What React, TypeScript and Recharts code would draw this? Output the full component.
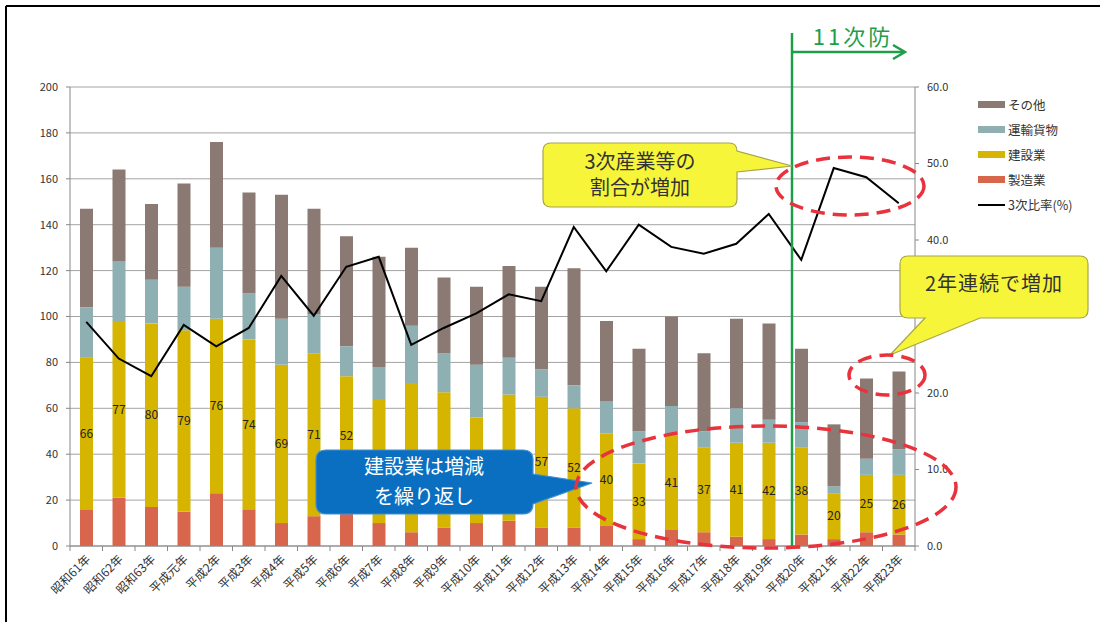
import React from "react"
import {
  ComposedChart,
  Bar,
  Line,
  XAxis,
  YAxis,
  CartesianGrid,
  Legend,
  LabelList,
} from "recharts"

const categories = [
  "昭和61年", "昭和62年", "昭和63年", "平成元年", "平成2年", "平成3年", "平成4年",
  "平成5年", "平成6年", "平成7年", "平成8年", "平成9年", "平成10年", "平成11年",
  "平成12年", "平成13年", "平成14年", "平成15年", "平成16年", "平成17年", "平成18年",
  "平成19年", "平成20年", "平成21年", "平成22年", "平成23年",
]
const manufacturing = [16, 21, 17, 15, 23, 16, 10, 13, 22, 10, 6, 8, 10, 11, 8, 8, 9, 3, 7, 6, 4, 3, 5, 3, 6, 5]
const construction = [66, 77, 80, 79, 76, 74, 69, 71, 52, 54, 65, 59, 46, 55, 57, 52, 40, 33, 41, 37, 41, 42, 38, 20, 25, 26]
const transport = [22, 26, 19, 19, 31, 20, 20, 17, 13, 14, 25, 17, 23, 16, 12, 10, 14, 14, 13, 7, 15, 10, 11, 3, 7, 11]
const others = [43, 40, 33, 45, 46, 44, 54, 46, 48, 48, 34, 33, 34, 40, 36, 51, 35, 36, 39, 34, 39, 42, 32, 27, 35, 34]
const tertiaryRatio = [
  29.3, 24.5, 22.2, 28.9, 26.1, 28.5, 35.3, 30.1, 36.5, 37.8, 26.3, 28.5, 30.4,
  32.9, 32.0, 41.7, 35.9, 42.0, 39.1, 38.2, 39.5, 43.4, 37.4, 49.4, 48.2, 44.8,
]
const leftTicks = [0, 20, 40, 60, 80, 100, 120, 140, 160, 180, 200]
const rightTicks = [0, 10, 20, 30, 40, 50, 60]

const COLORS = {
  others: "#8b7a73",
  transport: "#8fb0b3",
  construction: "#d5b500",
  manufacturing: "#d8664c",
}

const data = categories.map((name, i) => ({
  name,
  manufacturing: manufacturing[i],
  construction: construction[i],
  transport: transport[i],
  others: others[i],
  ratio: tertiaryRatio[i],
}))

const legendItems = [
  { label: "その他", color: COLORS.others, line: false },
  { label: "運輸貨物", color: COLORS.transport, line: false },
  { label: "建設業", color: COLORS.construction, line: false },
  { label: "製造業", color: COLORS.manufacturing, line: false },
  { label: "3次比率(%)", color: "#000", line: true },
]

const FONT = '"Noto Sans CJK JP", "Noto Sans", sans-serif'

function XTick({ x, y, payload, index }: any) {
  const off = payload?.offset || 16.25
  const y0 = y - 7
  return (
    <g>
      <line x1={x - off} x2={x - off} y1={y0} y2={y0 + 5} stroke="#888" />
      {index === categories.length - 1 && (
        <line x1={x + off} x2={x + off} y1={y0} y2={y0 + 5} stroke="#888" />
      )}
      <text
        x={x + 5}
        y={y + 7}
        transform={`rotate(-45, ${x + 5}, ${y + 7})`}
        textAnchor="end"
        fontSize={12}
        fill="#333"
        fontFamily={FONT}
      >
        {payload.value}
      </text>
    </g>
  )
}

function LegendBox() {
  return (
    <div style={{ fontFamily: FONT, fontSize: 12.5, color: "#333" }}>
      {legendItems.map((it) => (
        <div key={it.label} style={{ display: "flex", alignItems: "center", height: 25 }}>
          {it.line ? (
            <div style={{ width: 27, height: 2, background: it.color }} />
          ) : (
            <div style={{ width: 27, height: 7, background: it.color }} />
          )}
          <span style={{ marginLeft: 3 }}>{it.label}</span>
        </div>
      ))}
    </div>
  )
}

function Annotations() {
  const red = "#e8323c"
  const green = "#1e9e4a"
  return (
    <svg
      width={1100}
      height={622}
      style={{ position: "absolute", left: 0, top: 0, pointerEvents: "none", fontFamily: FONT }}
    >
      <line x1={6} y1={6} x2={1100} y2={6} stroke="#000" strokeWidth={2} />
      <line x1={6} y1={6} x2={6} y2={622} stroke="#000" strokeWidth={2} />

      {/* 11次防 */}
      <line x1={792} y1={33} x2={792} y2={546} stroke={green} strokeWidth={2.5} />
      <line x1={792} y1={52} x2={904} y2={52} stroke={green} strokeWidth={2.5} />
      <polyline points="893,45 905,52 893,59" fill="none" stroke={green} strokeWidth={2.5} />
      <text x={853} y={45} textAnchor="middle" fontSize={22} fill={green} letterSpacing={3}>
        11次防
      </text>

      {/* callout: 3次産業等の割合が増加 */}
      <path
        d="M 551 143 H 729 Q 737 143 737 151 L 792 166 L 737 172 V 199 Q 737 207 729 207 H 551 Q 543 207 543 199 V 151 Q 543 143 551 143 Z"
        fill="#f7f53a"
        stroke="#a7a54a"
        strokeWidth={1.2}
      />
      <text x={640} y={169} textAnchor="middle" fontSize={20} fill="#333">3次産業等の</text>
      <text x={640} y={195} textAnchor="middle" fontSize={20} fill="#333">割合が増加</text>

      {/* callout: 2年連続で増加 */}
      <path
        d="M 908 256 H 1080 Q 1088 256 1088 264 V 310 Q 1088 318 1080 318 H 980 L 890 355 L 925 318 H 908 Q 900 318 900 310 V 264 Q 900 256 908 256 Z"
        fill="#f7f53a"
        stroke="#a7a54a"
        strokeWidth={1.2}
      />
      <text x={994} y={291} textAnchor="middle" fontSize={20} fill="#333" letterSpacing={1}>
        2年連続で増加
      </text>

      {/* callout: 建設業は増減を繰り返し */}
      <path
        d="M 326 450 H 523 Q 533 450 533 460 V 474 L 592 483 L 533 504 Q 533 514 523 514 H 326 Q 316 514 316 504 V 460 Q 316 450 326 450 Z"
        fill="#0a6fc0"
        stroke="#3f8fd0"
        strokeWidth={1.2}
      />
      <text x={424} y={474} textAnchor="middle" fontSize={20} fill="#fff">建設業は増減</text>
      <text x={424} y={504} textAnchor="middle" fontSize={20} fill="#fff">を繰り返し</text>

      {/* red dashed ellipses */}
      <ellipse cx={850} cy={186} rx={74} ry={29} fill="none" stroke={red} strokeWidth={3.5} strokeDasharray="14 8" />
      <ellipse cx={887} cy={375} rx={38} ry={20} fill="none" stroke={red} strokeWidth={3.5} strokeDasharray="14 8" />
      <ellipse cx={766} cy={487} rx={190} ry={61} fill="none" stroke={red} strokeWidth={3.5} strokeDasharray="14 8" />
    </svg>
  )
}

export default function App() {
  return (
    <div
      style={{
        position: "absolute",
        left: 0,
        top: 0,
        width: 1100,
        height: 622,
        background: "#fff",
        overflow: "hidden",
        fontFamily: FONT,
      }}
    >
      <ComposedChart
        width={1100}
        height={622}
        data={data}
        margin={{ top: 87, right: 140, bottom: 6, left: 6 }}
        barCategoryGap={0}
      >
        <CartesianGrid yAxisId="left" vertical={false} stroke="#a3a3a3" />
        <XAxis
          dataKey="name"
          interval={0}
          height={70}
          tickLine={false}
          tickSize={5}
          tickMargin={2}
          axisLine={{ stroke: "#888" }}
          tick={<XTick />}
        />
        <YAxis
          yAxisId="left"
          domain={[0, 200]}
          ticks={leftTicks}
          width={64}
          tickSize={4}
          tickMargin={8}
          axisLine={{ stroke: "#888" }}
          tickLine={{ stroke: "#888" }}
          tick={{ fontSize: 11, fill: "#333", fontFamily: FONT }}
        />
        <YAxis
          yAxisId="right"
          orientation="right"
          domain={[0, 60]}
          ticks={rightTicks}
          width={45}
          tickSize={4}
          tickMargin={8}
          axisLine={{ stroke: "#888" }}
          tickLine={{ stroke: "#888" }}
          tickFormatter={(v: number) => v.toFixed(1)}
          tick={{ fontSize: 11, fill: "#333", fontFamily: FONT, textAnchor: "start" }}
        />
        <Bar yAxisId="left" dataKey="manufacturing" name="製造業" stackId="a" fill={COLORS.manufacturing} barSize={13} isAnimationActive={false} />
        <Bar yAxisId="left" dataKey="construction" name="建設業" stackId="a" fill={COLORS.construction} barSize={13} isAnimationActive={false}>
          <LabelList dataKey="construction" position="center" fontSize={12} fill="#222" fontFamily={FONT} />
        </Bar>
        <Bar yAxisId="left" dataKey="transport" name="運輸貨物" stackId="a" fill={COLORS.transport} barSize={13} isAnimationActive={false} />
        <Bar yAxisId="left" dataKey="others" name="その他" stackId="a" fill={COLORS.others} barSize={13} isAnimationActive={false} />
        <Line
          yAxisId="right"
          type="linear"
          dataKey="ratio"
          name="3次比率(%)"
          stroke="#000"
          strokeWidth={2}
          dot={false}
          isAnimationActive={false}
        />
        <Legend
          layout="horizontal"
          verticalAlign="middle"
          align="center"
          content={<LegendBox />}
          wrapperStyle={{ left: 978, top: 92, width: 120, height: 130 }}
        />
      </ComposedChart>
      <Annotations />
    </div>
  )
}
